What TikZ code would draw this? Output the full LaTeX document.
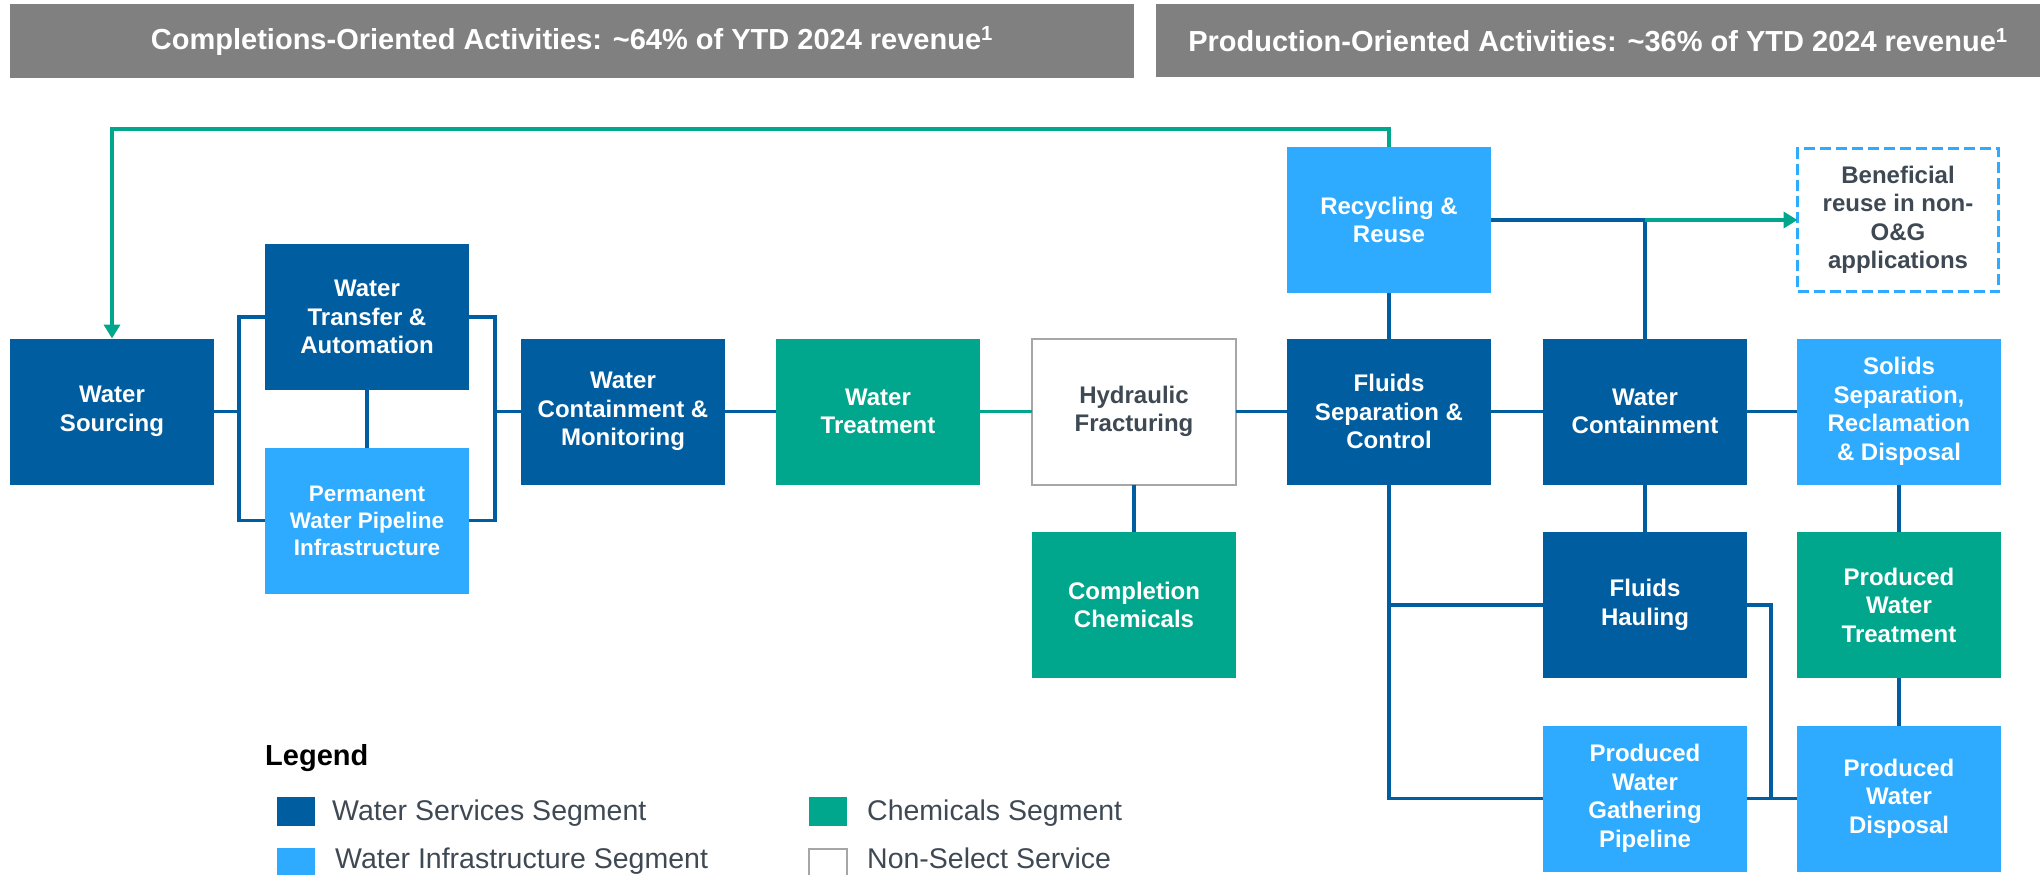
\documentclass[tikz,border=0pt]{standalone}
\usepackage{fontspec}
\setmainfont{Liberation Sans}
\usetikzlibrary{arrows.meta}
\definecolor{dkblue}{HTML}{005EA0}
\definecolor{ltblue}{HTML}{2EAAFF}
\definecolor{grn}{HTML}{00A78C}
\definecolor{hdrgray}{HTML}{808080}
\definecolor{txtgray}{HTML}{3F4954}
\definecolor{bordergray}{HTML}{A6A6A6}
\newcommand\bxfont{\fontsize{24}{28.5}\selectfont\bfseries}
\newcommand\bxsmall{\fontsize{22.5}{27}\selectfont\bfseries}
\newcommand\lgfont{\fontsize{28.5}{34}\selectfont}
\tikzset{
  box/.style={minimum width=204pt, minimum height=146pt, inner sep=0pt, outer sep=0pt, align=center, text=white, font=\bxfont},
  svc/.style={box, fill=dkblue},
  inf/.style={box, fill=ltblue},
  chm/.style={box, fill=grn},
  nonsel/.style={box, draw=bordergray, line width=2pt, fill=white, text=txtgray},
  benbox/.style={box, draw=ltblue, line width=3.5pt, dash pattern=on 11pt off 5pt, fill=white, text=txtgray},
  conn/.style={draw=dkblue, line width=3.5pt},
  gconn/.style={draw=grn, line width=3.5pt},
  hdr/.style={fill=hdrgray, text=white, inner sep=0pt, font=\fontsize{29}{34}\selectfont\bfseries},
  lgsq/.style={minimum width=38pt, minimum height=29pt, inner sep=0pt, outer sep=0pt},
  lgtext/.style={anchor=base west, inner sep=0pt, text=txtgray, font=\lgfont},
  gtip/.style={-{Triangle[width=16pt,length=14pt]}}
}
\begin{document}
\begin{tikzpicture}[x=1pt,y=-1pt]
\useasboundingbox (0,0) rectangle (2040,875);
% headers
\node[hdr, minimum width=1124pt, minimum height=74pt] (h1) at (572,41) {Completions-Oriented Activities: \textasciitilde64\% of YTD 2024 revenue\textsuperscript{1}};
\node[hdr, minimum width=884pt, minimum height=73pt] (h2) at (1598,40.5) {Production-Oriented Activities: \textasciitilde36\% of YTD 2024 revenue\textsuperscript{1}};
% boxes
\node[svc] (ws)  at (112,411.5) {Water\\Sourcing};
\node[svc] (wta) at (367,317) {Water\\Transfer \&\\Automation};
\node[inf, font=\bxsmall] (pwp) at (367,520.5) {Permanent\\Water Pipeline\\Infrastructure};
\node[svc] (wcm) at (623,411.5) {Water\\Containment \&\\Monitoring};
\node[chm] (wt)  at (878,411.5) {Water\\Treatment};
\node[nonsel] (hf) at (1134,411.5) {Hydraulic\\Fracturing};
\node[inf] (rr)  at (1389,220) {Recycling \&\\Reuse};
\node[svc] (fsc) at (1389,411.5) {Fluids\\Separation \&\\Control};
\node[svc] (wc)  at (1645,411.5) {Water\\Containment};
\node[inf] (ssr) at (1899,411.5) {Solids\\Separation,\\Reclamation\\\& Disposal};
\node[benbox, minimum width=201pt, minimum height=143pt] (br) at (1898,220) {Beneficial\\reuse in non-\\O\&G\\applications};
\node[chm] (cc)  at (1134,605) {Completion\\Chemicals};
\node[svc] (fh)  at (1645,605) {Fluids\\Hauling};
\node[chm] (pwt) at (1899,605) {Produced\\Water\\Treatment};
\node[inf] (pwg) at (1645,798.5) {Produced\\Water\\Gathering\\Pipeline};
\node[inf] (pwd) at (1899,798.5) {Produced\\Water\\Disposal};
% junction coordinates
\coordinate (lb) at (239,411.5);
\coordinate (rb) at (495,411.5);
\coordinate (j1) at (1645,220);
\coordinate (hk) at (1771,798.5);
% connectors
\draw[conn] (wta.west) -| (lb) |- (pwp.west);
\draw[conn] (ws.east) -- (lb);
\draw[conn] (wta.east) -| (rb) |- (pwp.east);
\draw[conn] (rb) -- (wcm.west);
\draw[conn] (wta) -- (pwp);
\draw[conn] (wcm) -- (wt);
\draw[gconn] (wt) -- (hf);
\draw[conn] (hf) -- (fsc);
\draw[conn] (fsc) -- (wc);
\draw[conn] (wc) -- (ssr);
\draw[conn] (hf) -- (cc);
\draw[conn] (rr) -- (fsc);
\draw[conn] (wc) -- (fh);
\draw[conn] (ssr) -- (pwt);
\draw[conn] (pwt) -- (pwd);
\draw[conn] (pwg) -- (pwd);
\draw[conn] (rr.east) -- (j1) -- (wc.north);
\draw[gconn, gtip] (j1) -- (br.west);
\draw[conn] (fsc.south) |- (fh.west);
\draw[conn] (fsc.south) |- (pwg.west);
\draw[conn] (fh.east) -| (hk);
\draw[gconn, gtip] (rr.north) -- ++(0,-18) -| (ws.north);
% legend
\node[anchor=base west, inner sep=0pt, font=\fontsize{29}{34}\selectfont\bfseries] (lgt) at (265,765) {Legend};
\node[lgsq, fill=dkblue] (l1) at (296,811.5) {};
\node[lgtext] (l1t) at (332,820) {Water Services Segment};
\node[lgsq, fill=ltblue] (l2) at (296,862.5) {};
\node[lgtext] (l2t) at (335,868) {Water Infrastructure Segment};
\node[lgsq, fill=grn] (l3) at (828,811.5) {};
\node[lgtext] (l3t) at (867,820) {Chemicals Segment};
\node[lgsq, draw=bordergray, line width=2pt, fill=white] (l4) at (828,863) {};
\node[lgtext] (l4t) at (867,868) {Non-Select Service};
\end{tikzpicture}
\end{document}
